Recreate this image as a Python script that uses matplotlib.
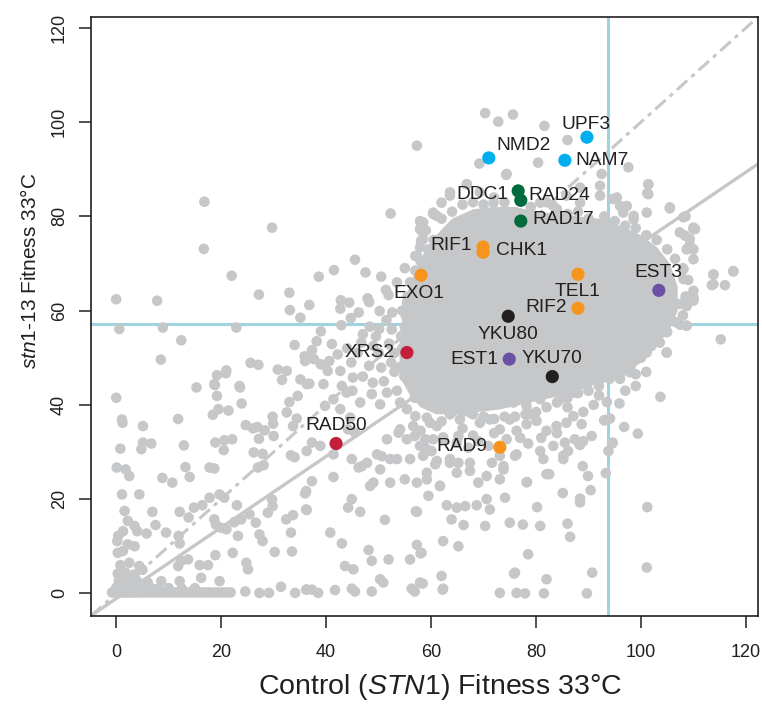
import matplotlib
matplotlib.use("Agg")
import matplotlib.pyplot as plt
from matplotlib import font_manager
import numpy as np

# narrow face for the axis titles when it is there
try:
    font_manager.findfont(font_manager.FontProperties(family='Liberation Sans Narrow'), fallback_to_default=False)
    TITLE_FONT, XT_SIZE, YT_SIZE = 'Liberation Sans Narrow', 24, 17.5
except ValueError:
    TITLE_FONT, XT_SIZE, YT_SIZE = 'Liberation Sans', 20.5, 15

plt.rcParams['font.family'] = ['Liberation Sans', 'DejaVu Sans']
plt.rcParams['mathtext.fontset'] = 'custom'
plt.rcParams['mathtext.rm'] = TITLE_FONT
plt.rcParams['mathtext.it'] = TITLE_FONT + ':italic'
plt.rcParams['lines.scale_dashes'] = False

########################################
# data
########################################
# dense core of the cloud (outline)
core_x = [55, 56.5, 58.5, 61, 64, 68, 72, 76, 80, 84, 88, 92, 96, 100, 103, 105.5, 107, 107, 105.5, 103,
          100, 97, 93, 89, 85, 81, 77, 73, 69, 65, 61, 58, 56, 54.5, 54, 54, 54.5]
core_y = [62, 67, 72, 76, 79.5, 81.5, 82, 82, 81, 80.5, 80, 79.5, 78, 76, 73.5, 70, 65, 60, 56, 52.5,
          49, 46.5, 45, 43.5, 42, 41, 40, 39, 38.5, 38, 38, 39.5, 42, 45, 49, 54, 58]

# points round the edge of the core
edge_pts = [(57.9, 79.0), (60.4, 80.5), (63.6, 84.4), (66.8, 86.8), (69.3, 85.1), (71.9, 82.9), (74.4, 89.0),
            (80.8, 82.9), (83.3, 82.2), (85.8, 84.4), (88.4, 82.9), (92.2, 84.4), (95.4, 84.0), (97.3, 82.2),
            (98.6, 80.1), (101.1, 80.8), (101.4, 86.8), (101.4, 84.7), (105.5, 81.9), (108.1, 79.8),
            (110.0, 77.6), (109.3, 75.2), (108.7, 73.0), (110.0, 70.9), (108.1, 68.8), (113.8, 67.7),
            (117.6, 68.4), (113.8, 65.6), (110.0, 62.4), (108.7, 61.0), (106.8, 57.5), (108.7, 56.8),
            (104.9, 55.4), (103.0, 53.9), (104.9, 51.1), (101.1, 51.1), (98.5, 49.7), (97.9, 46.9),
            (95.4, 48.3), (92.2, 45.4), (89.7, 44.0), (87.1, 42.6), (84.6, 41.2), (80.8, 41.2), (78.2, 39.8),
            (75.7, 40.5), (56.0, 58.9), (55.4, 61.7), (56.6, 63.8), (57.3, 71.6), (58.5, 75.2), (56.0, 55.3),
            (55.0, 52.5), (55.4, 48.3), (56.6, 44.0), (59.2, 41.2), (62.3, 39.8), (66.8, 39.4), (70.6, 39.8),
            (59, 77), (62, 79.5), (64, 81), (66, 82.5), (68, 83), (70, 82.5), (72, 84), (74, 83), (79, 82),
            (82, 83), (84, 81.5), (86, 80.5), (88, 81), (90, 79.5), (93, 80), (95, 79), (97, 78), (99, 77.5),
            (101, 76), (103, 75), (105, 73), (106.5, 71), (108, 69), (109, 66.5), (108.5, 63), (108, 59),
            (107.5, 57), (105, 55.5), (102, 52.5), (100, 50), (98, 48), (96, 46.5), (94, 45.5), (92, 44),
            (90, 43), (88, 42.5), (86, 41.5), (84, 40.5), (82, 39.5), (80, 38.5), (78, 38), (76, 37.5),
            (74, 37.5), (72, 37), (70, 37.5), (68, 38), (66, 38.5), (64, 38.5), (62, 39.5), (60, 41),
            (58, 42.5), (56.5, 44), (55, 46), (54, 48), (54.5, 52), (55, 56.5), (54.5, 60), (55.5, 63),
            (56, 66), (57, 68.5), (58, 70.5), (59.5, 73), (60.5, 75)]

upper_left = [(57.3, 95.0), (16.8, 83.1), (52.3, 80.6), (29.7, 77.6), (16.7, 73.1), (58.1, 78.7), (58.3, 76.8),
              (58.1, 74.8), (57.9, 73.4), (57.0, 71.6), (45.5, 70.8), (41.5, 68.6), (47.5, 68.1), (38.6, 67.2),
              (50.5, 67.2), (22.0, 67.4), (0.0, 62.4), (7.8, 62.1), (27.2, 63.4), (33.0, 63.8), (33.1, 60.1),
              (36.8, 61.2), (35.1, 58.5), (42.8, 62.2), (44.4, 61.7), (42.7, 60.4), (47.9, 62.6), (48.2, 61.8),
              (50.2, 59.9), (52.6, 59.6), (51.4, 64.4), (51.9, 63.3), (46.2, 59.6), (44.7, 58.4), (0.6, 56.1),
              (8.9, 56.4), (22.9, 56.4), (12.4, 53.7), (8.5, 49.6), (55.2, 58.9), (54.3, 54.6), (53.5, 66),
              (55, 69)]

mid_left = [(48.3, 56.6), (50.1, 56.1), (42.9, 56.9), (39.0, 55.6), (38.2, 53.5), (41.1, 52.9), (34.0, 52.7),
            (37.3, 51.6), (35.9, 50.3), (36.0, 49.3), (37.7, 49.7), (39.0, 48.6), (40.6, 49.3), (42.2, 50.7),
            (40.3, 47.2), (42.7, 47.2), (44.8, 49.0), (47.0, 55.0), (46.7, 53.2), (48.2, 48.3), (50.5, 47.9),
            (52.4, 49.0), (48.9, 44.7), (45.1, 45.8), (54.9, 46.1), (25.6, 48.9), (27.1, 48.5), (21.0, 47.3),
            (20.9, 46.7), (19.2, 46.3), (18.7, 44.4), (30.8, 47.5), (32.5, 47.2), (31.6, 45.3), (35.1, 45.4),
            (36.8, 44.5), (15.3, 43.7), (23.5, 44.0), (36.3, 44.4), (39.5, 44.4), (41.4, 41.2), (42.7, 39.1),
            (39.8, 39.8), (43.9, 42.6), (46.5, 40.5), (48.7, 42.3), (50.3, 40.1), (51.6, 42.6), (53.5, 43.0),
            (54.1, 40.5), (55.4, 39.1), (56.9, 41.5), (50, 51), (52, 53), (44, 52), (46, 51), (49, 52.5),
            (51, 45), (53, 47), (47, 46), (43, 44), (45, 43), (52.5, 56), (53, 51), (51.5, 58), (49.5, 54.5)]

low_left = [(18.8, 44.2), (19.2, 41.9), (23.6, 43.7), (23.9, 40.3), (0.0, 41.5), (1.1, 36.9), (1.2, 36.2),
            (5.1, 35.5), (11.8, 37.0), (18.4, 37.9), (19.5, 39.1), (21.4, 38.8), (24.7, 35.7), (26.1, 35.0),
            (26.9, 35.3), (28.3, 34.6), (29.8, 37.5), (29.9, 36.0), (32.5, 38.4), (33.0, 40.6), (34.6, 41.9),
            (34.4, 37.1), (33.7, 35.5), (5.1, 32.0), (6.7, 31.8), (4.8, 30.6), (0.8, 30.7), (12.9, 31.4),
            (18.9, 32.0), (20.6, 32.5), (22.1, 32.7), (20.5, 30.4), (27.2, 32.8), (30.0, 33.4), (26.2, 29.9),
            (27.9, 29.6), (28.1, 27.2), (27.0, 26.7), (33.3, 29.3), (34.0, 28.9), (0.1, 26.7), (1.8, 26.3),
            (2.5, 24.9), (13.2, 26.8), (14.0, 24.7), (8.8, 24.5), (10.7, 23.5), (17.8, 26.7), (18.7, 26.5),
            (1.1, 21.0), (4.4, 21.0), (19.7, 21.0), (20.6, 20.3), (17.8, 20.3), (16.4, 18.7), (14.8, 18.2),
            (23.0, 18.7), (1.6, 17.5), (6.9, 17.3), (12.1, 17.3), (13.8, 16.1), (2.2, 15.4), (3.5, 14.3),
            (4.0, 13.2), (0.4, 12.2), (1.3, 13.2), (0.2, 11.1), (5.8, 12.7), (7.5, 14.5), (9.5, 12.9),
            (11.9, 12.2), (12.1, 10.6), (18.7, 15.7), (19.0, 14.6), (20.1, 13.9), (21.0, 13.6), (22.5, 15.1),
            (23.8, 15.7), (25.4, 16.8), (26.6, 15.0), (28.9, 17.1), (29.8, 18.5), (29.7, 19.9), (23.2, 12.2),
            (27.3, 12.5), (27.9, 11.1), (22.2, 8.6), (30.2, 8.8), (33.5, 8.9), (33.3, 12.9), (32.4, 15.7),
            (33.7, 16.6), (36.2, 17.8), (36.2, 21.7), (0.3, 8.6), (1.3, 9.0), (3.5, 10.0), (2.2, 10.4),
            (18.9, 8.1), (24.8, 6.5), (25.1, 5.1), (12.4, 6.9), (13.7, 7.2), (11.8, 5.8), (15.9, 6.0),
            (17.5, 6.0), (4.4, 5.8), (16.2, 3.3), (19.7, 2.6), (8.6, 2.6), (12.1, 2.6), (1.6, 3.7), (1.3, 2.3),
            (2.9, 3.0), (24.6, 0.4), (27.3, 0.1), (29.1, 0.1), (31.4, 1.4), (34.1, 0.1), (36.2, 0.8)]

# zero-fitness row and the pile at the origin
zero_row_x = [-0.8, -0.3, 0.2, 0.7, 1.2, 1.7, 2.2, 2.7, 3.2, 3.7, 4.3, 5.0, 5.8, 6.6, 7.4, 8.2, 9.0, 9.8,
              10.6, 11.4, 12.2, 13.0, 13.8, 14.6, 15.4, 16.2, 17.0, 17.8, 18.6, 19.4, 20.2, 21.0, 21.8]
origin_pts = [(0, 1.2), (1, 1.4), (2, 1.1), (3, 1.3), (4, 1.2), (5, 1.0), (6.5, 1.2), (8, 1.0), (10, 1.1),
              (12.5, 1.0), (15, 1.1), (0.5, 2.6), (1.5, 2.8), (2.5, 2.4), (4, 2.6), (6, 2.3), (0.3, 4.2),
              (1.8, 4.4), (3.5, 4.0), (5, 5.0), (2.5, 6.5), (0.8, 6.0)]

low_mid = [(37.3, 32.0), (38.9, 31.3), (36.3, 30.2), (44.6, 37.3), (44.2, 34.8), (45.5, 34.1), (41.4, 29.5),
           (51.6, 32.7), (53.8, 34.1), (54.1, 34.8), (56.6, 35.5), (56.9, 33.4), (58.9, 32.7), (59.8, 36.2),
           (60.4, 32.7), (59.2, 30.6), (61.1, 28.1), (44.9, 28.5), (46.8, 27.0), (47.8, 27.7), (49.7, 29.5),
           (50.6, 29.1), (52.2, 28.5), (53.5, 28.5), (50.3, 26.3), (52.2, 23.5), (49.0, 23.5), (46.2, 26.7),
           (48.4, 22.8), (41.4, 24.7), (36.0, 21.2), (37.3, 23.8), (44.9, 20.0), (46.5, 17.3), (44.2, 18.2),
           (36.3, 17.7), (51.2, 15.6), (57.3, 17.3), (40.8, 12.9), (43.0, 10.6), (48.1, 9.2), (48.7, 6.9),
           (51.9, 7.2), (56.0, 7.2), (57.3, 10.3), (58.2, 8.6), (43.6, 5.8), (45.2, 5.1), (50.3, 3.0),
           (50.9, 2.3), (57.9, 2.3), (62.0, 3.7), (62.3, 1.0), (56.3, 1.0), (56.9, 0.4), (48.7, 0.4),
           (44.9, 1.0), (45.5, 0.4), (41.7, 0.7), (36.3, 0.8), (37.3, 0.8), (38.5, 0.1),
           (62.3, 33.1), (65.2, 33.4), (63.6, 27.7), (64.9, 25.6), (67.4, 27.7), (69.0, 23.5), (70.6, 24.9),
           (73.1, 29.2), (73.8, 26.3), (76.0, 29.2), (59.2, 24.2), (61.7, 22.8), (59.5, 20.7), (63.0, 18.7),
           (64.9, 18.2), (66.5, 18.5), (68.7, 18.7), (70.6, 20.0), (71.2, 17.8), (73.1, 24.2), (74.1, 20.3),
           (63.9, 15.7), (66.2, 14.5), (70.3, 14.3), (75.0, 15.0), (62.3, 11.1), (65.2, 10.0), (76.0, 4.4),
           (73.1, 0.1), (76.3, 0.1), (62.2, 0.8), (58.4, 2.1), (58.0, 8.5), (57.1, 17.4)]

below_core = [(57.0, 37.6), (59.2, 37.3), (61.1, 35.5), (63.6, 38.0), (65.5, 36.9), (67.4, 38.4), (69.3, 36.2),
              (71.2, 36.9), (73.1, 34.8), (75.0, 36.9), (76.3, 34.5), (78.2, 35.9), (80.1, 36.6), (82.0, 34.5),
              (83.9, 35.5), (85.8, 36.2), (87.1, 37.6), (88.7, 35.9), (55.4, 32.7), (57.9, 31.3), (60.1, 30.2),
              (62.3, 32.7), (64.9, 32.0), (67.1, 30.9), (69.0, 32.3), (70.9, 31.3), (74.4, 32.7), (76.3, 29.5),
              (78.5, 31.8), (80.8, 30.2), (83.3, 31.3), (85.5, 32.0), (87.4, 32.7), (88.4, 31.5), (56.0, 28.5),
              (58.5, 29.2), (60.8, 27.4), (63.6, 28.5), (65.2, 27.7), (67.4, 26.0), (71.6, 27.7), (73.8, 27.0),
              (78.2, 23.6), (82.0, 25.3), (85.2, 29.2), (55.0, 24.2), (57.3, 23.5), (59.2, 25.6), (61.7, 22.8),
              (66, 35), (72, 34), (77, 33), (81, 33), (84, 34), (89, 38.5), (91, 40), (58, 34.5), (62, 36.5),
              (68, 33.5), (79, 38), (86, 39.5)]

right_low = [(115.2, 53.9), (103.7, 41.7), (99.4, 33.9), (96.8, 35.3), (94.5, 31.8), (93.8, 30.2), (93.3, 25.5),
             (101.2, 18.3), (101.1, 5.5), (95.9, 40.3), (93.0, 36.7), (88.9, 27.0), (89.9, 24.9), (90.4, 21.9),
             (88.4, 20.1), (88.4, 19.3), (85.1, 21.3), (86.0, 14.8), (86.5, 12.0), (80.2, 18.3), (80.8, 14.3),
             (77.5, 14.6), (78.3, 23.6), (81.4, 28.5), (82.5, 25.3), (85.2, 28.5), (86.1, 30.2), (89.0, 32.3),
             (90.6, 33.4), (90.7, 4.4), (89.7, 0.0), (81.5, 0.0), (82.0, 3.0), (77.9, 0.0), (75.8, 4.2),
             (78.5, 8.3), (93.5, 40.6), (93.1, 36.8), (94.1, 37.1), (94.6, 32.0), (88.3, 31.6), (103.6, 53.2),
             (104.9, 51.1), (106.8, 57.5), (108.7, 56.8), (99, 44), (97, 43), (92, 42), (96, 45.5), (101, 47),
             (99, 46.5)]

top_right = [(70.3, 101.9), (72.8, 100.1), (75.6, 101.6), (81.6, 99.2), (86.0, 96.2), (74.3, 88.8), (80.4, 91.4),
             (69.2, 91.2), (92.5, 89.0), (97.6, 90.4), (101.4, 86.8), (101.2, 84.9), (105.5, 81.7), (108.5, 80.0),
             (110.3, 77.3), (107.4, 76.6), (109.3, 73.9), (117.6, 68.3), (113.8, 67.6), (113.5, 65.4),
             (116.0, 65.4), (110.0, 62.8), (107.4, 61.4), (66.8, 86.8), (63.6, 85.1), (62.0, 82.9), (60.4, 80.8),
             (58.5, 78.7), (57.9, 77.3), (61.1, 80.1), (88.4, 86.1), (92.2, 86.5), (94.7, 83.7), (96.0, 82.2),
             (96.6, 80.8), (98.6, 79.4), (110.0, 64.2), (110.0, 62.1), (108.7, 61.0), (108.1, 66.7),
             (110.0, 73.0), (108.4, 75.9), (110.0, 77.3)]

# highlighted genes
genes = ['UPF3', 'NMD2', 'NAM7', 'DDC1', 'RAD24', 'RAD17', 'RIF1', 'CHK1', 'EXO1', 'TEL1', 'RIF2',
         'EST3', 'YKU80', 'EST1', 'YKU70', 'XRS2', 'RAD50', 'RAD9']
gene_x = [89.7, 71.0, 85.5, 76.6, 77.1, 77.1, 69.9, 69.9, 58.1, 88.0, 88.0, 103.4, 74.7, 74.9, 83.1, 55.4, 41.9, 73.1]
gene_y = [96.8, 92.4, 91.9, 85.4, 83.4, 79.0, 73.5, 72.4, 67.5, 67.7, 60.5, 64.3, 58.8, 49.7, 46.0, 51.1, 31.8, 31.0]
gene_group = ['nmd', 'nmd', 'nmd', 'ddc', 'ddc', 'ddc', 'tel', 'tel', 'tel', 'tel', 'tel',
              'est', 'ku', 'est', 'ku', 'mrx', 'mrx', 'tel']

fit_slope, fit_icpt = 0.754, -1.1
cut_x, cut_y = 93.7, 57.1

########################################
# style / layout
########################################
group_col = {'nmd': '#00AEEF', 'ddc': '#006B3C', 'tel': '#F7941D', 'est': '#6A51A3',
             'ku': '#231F20', 'mrx': '#C41E3A'}
# label offsets in pixels (dx right, dy up)
label_off = {'UPF3': (-1, 13), 'NMD2': (35, 12), 'NAM7': (37, 0), 'DDC1': (-36, -4), 'RAD24': (38, 5),
             'RAD17': (42, 2), 'RIF1': (-32, 1), 'CHK1': (38, 2), 'EXO1': (-2, -18), 'TEL1': (0, -17),
             'RIF2': (-32, 1), 'EST3': (0, 18), 'YKU80': (0, -18), 'EST1': (-35, 0), 'YKU70': (0, 18),
             'XRS2': (-37, 0), 'RAD50': (0, 18), 'RAD9': (-38, 1)}
GREY = '#C6C7C9'
INK = '#231F20'

fig = plt.figure(figsize=(7.62, 7.04), dpi=100)
ax = fig.add_axes([91 / 762, 1 - 616 / 704, 667 / 762, 599 / 704])
ax.set_xlim(-4.8, 122.3)
ax.set_ylim(-4.8, 122.3)

# reference lines
ax.axvline(cut_x, color='#9FD3E0', lw=2.2, zorder=1)
ax.axhline(cut_y, color='#9FD3E0', lw=2.2, zorder=1)
lim = np.array([-4.8, 122.3])
ax.plot(lim, lim, color=GREY, lw=2.2, dashes=(10, 4, 3, 4), zorder=1)
ax.plot(lim, fit_slope * lim + fit_icpt, color=GREY, lw=2.4, zorder=1)

# grey cloud
ax.fill(core_x, core_y, color=GREY, lw=0, zorder=2)
cloud = edge_pts + upper_left + mid_left + low_left + origin_pts + low_mid + below_core + right_low + top_right
cloud += [(x, 0.2) for x in zero_row_x]
cx = [p[0] for p in cloud]
cy = [p[1] for p in cloud]
ax.scatter(cx, cy, s=58, color=GREY, edgecolors='none', zorder=3)

# genes of interest
cols = [group_col[g] for g in gene_group]
ax.scatter(gene_x, gene_y, s=90, c=cols, edgecolors='none', zorder=5)
for name, x, y in zip(genes, gene_x, gene_y):
    dx, dy = label_off[name]
    ax.annotate(name, (x, y), xytext=(dx * 0.72, dy * 0.72), textcoords='offset points',
                ha='center', va='center', fontsize=13.8, color=INK, zorder=6)

ax.set_xticks([0, 20, 40, 60, 80, 100, 120])
ax.set_yticks([0, 20, 40, 60, 80, 100, 120])
ax.tick_params(direction='out', length=8.5, width=1.1, colors=INK, labelsize=13)
ax.tick_params(axis='x', pad=12)
ax.tick_params(axis='y', pad=8)
plt.setp(ax.get_yticklabels(), rotation=90, va='center')
for sp in ax.spines.values():
    sp.set_linewidth(1.2)
    sp.set_color(INK)

fig.text(0.5 * (262 + 617) / 762, 1 - 687 / 704, r'Control ($\mathit{STN1}$) Fitness 33°C',
         ha='center', va='center', fontsize=XT_SIZE, color=INK, family=TITLE_FONT)
fig.text(30 / 762, 1 - 271 / 704, r'$\mathit{stn1}$-$\mathit{13}$ Fitness 33°C',
         ha='center', va='center', rotation=90, fontsize=YT_SIZE, color=INK, family=TITLE_FONT)

fig.savefig('out.png', dpi=100)
